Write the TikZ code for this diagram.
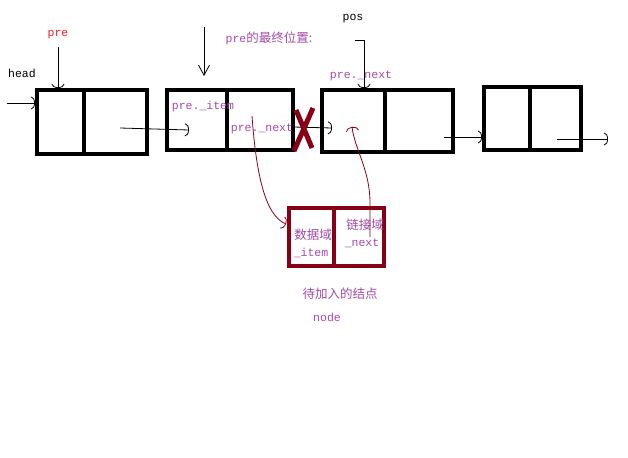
\documentclass[tikz,border=0pt]{standalone}
\usepackage{fontspec}
\setmonofont{Liberation Mono}
\newfontfamily\cjk{Noto Sans CJK SC}
\usetikzlibrary{arrows.meta, positioning}
\usepackage{xcolor}
\definecolor{paintpurple}{RGB}{163,73,164}
\definecolor{paintred}{RGB}{237,28,36}
\definecolor{darkmaroon}{RGB}{136,0,21}
\tikzset{listcell/.style={rectangle, draw=black, line width=4pt, inner sep=0pt, anchor=north west},
newcell/.style={rectangle, draw=darkmaroon, line width=4pt, inner sep=0pt, anchor=north west}}
\tikzset{monotext/.style={font=\ttfamily\fontsize{11.5}{12}\selectfont, inner sep=0pt},
cjktext/.style={font=\cjk\fontsize{12.5}{13}\selectfont, inner sep=0pt, text=paintpurple}}

\begin{document}
\begin{tikzpicture}[
        x=1pt, y=-1pt,
        pointer/.style={-{Arc Barb[length=4pt, width=13pt]}, line width=0.8pt},
        longpointer/.style={-{Straight Barb[length=10pt, width=11pt]}, line width=0.8pt},
        redpointer/.style={-{Arc Barb[length=4pt, width=13pt]}, draw=darkmaroon, line width=0.8pt}
    ]
        \useasboundingbox (0,0) rectangle (628,457);
        % List cells
        \foreach \name/\x/\y/\w/\h in {
            c1a/35/88/47pt/64pt,
            c1b/82/88/63pt/64pt,
            c2a/165/88/60pt/60pt,
            c2b/225/88/66pt/60pt,
            c3a/320/88/63pt/62pt,
            c3b/383/88/68pt/62pt,
            c4a/482/85/46pt/63pt,
            c4b/528/85/51pt/63pt} {
            \node[listcell, minimum width=\w, minimum height=\h] (\name) at (\x,\y) {};
        }
        % New node cells
        \node[newcell, minimum width=45pt, minimum height=58pt] (nwa) at (287,206) {};
        \node[newcell, minimum width=50pt, minimum height=58pt] (nwb) at (332,206) {};
        % Labels
        \node[monotext] (headlbl) at (22,73) {head};
        \node[monotext, text=paintred] (prelbl) at (58,35) {pre};
        \node[cjktext] (finallbl) at (269,38) {{\ttfamily\fontsize{11.5}{12}\selectfont pre}的最终位置:};
        \node[monotext] (poslbl) at (353,19) {pos};
        \node[monotext, text=paintpurple] (posnextlbl) at (361,76) {pre.\_next};
        \node[monotext, text=paintpurple] (itemlbl) at (203,107) {pre.\_item};
        \node[monotext, text=paintpurple] (nextlbl) at (262,129) {pre.\_next};
        \node[cjktext] (datalbl) at (313,235) {数据域};
        \node[monotext, text=paintpurple] (dataitem) at (311,253) {\_item};
        \node[cjktext] (linklbl) at (365,225) {链接域};
        \node[monotext, text=paintpurple] (linknext) at (362,243) {\_next};
        \node[cjktext] (newlbl) at (340,294) {待加入的结点};
        \node[monotext, text=paintpurple] (nodelbl) at (327,317) {node};
        % Pointers
        \coordinate (headin) at (7,103);
        \draw[pointer] (headin) -- (headin -| c1a.west);
        \coordinate (pretail) at (58,47);
        \draw[pointer] (pretail) -- (pretail |- c1a.north);
        \coordinate (finaltail) at (204,27);
        \coordinate (finaltip) at (204,76);
        \draw[longpointer] (finaltail) -- (finaltip);
        \coordinate (postail) at (355,40);
        \coordinate (posturn) at (364,40);
        \draw[pointer] (postail) -- (posturn) -- (posturn |- c3a.north);
        \coordinate (link1) at (120,128);
        \coordinate (link1tip) at (189,130);
        \draw[pointer] (link1) -- (link1tip);
        \coordinate (link2) at (293,127);
        \coordinate (link2tip) at (332,128);
        \draw[pointer] (link2) -- (link2tip);
        \coordinate (link3) at (444,137);
        \draw[pointer] (link3) -- (link3 -| c4a.west);
        \coordinate (link4) at (557,139);
        \coordinate (link4tip) at (608,139);
        \draw[pointer] (link4) -- (link4tip);
        % Broken link
        \draw[darkmaroon, line width=5pt] (296,110) -- (312,148) (313,108) -- (294,151);
        % New links
        \coordinate (linkfrom) at (252,116);
        \coordinate (itemtip) at (286,224);
        \draw[redpointer] (linkfrom) .. controls (256,170) and (264,215) .. (itemtip);
        \coordinate (nexttail) at (370,237);
        \coordinate (nexttip) at (352,127);
        \draw[redpointer] (nexttail) -- (370,203) .. controls (370,170) and (355,150) .. (nexttip);
    \end{tikzpicture}
\end{document}
